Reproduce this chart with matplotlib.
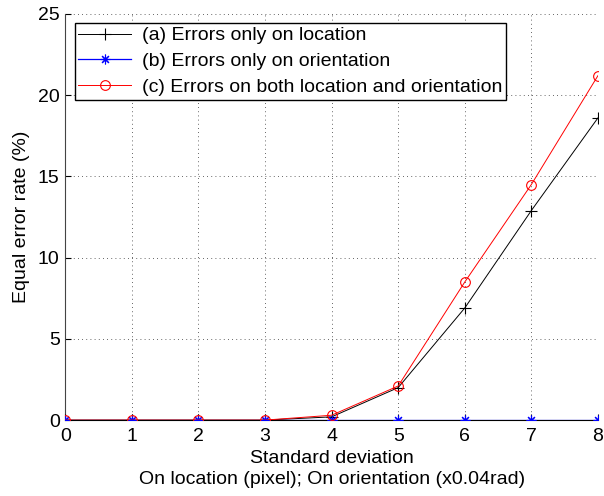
import matplotlib
matplotlib.use("Agg")
import matplotlib.pyplot as plt

plt.rcParams['font.family'] = ['Liberation Sans', 'DejaVu Sans']

# standard deviation levels
sigma = [0, 1, 2, 3, 4, 5, 6, 7, 8]

# equal error rate (%) for each noise case
eer_location = [0, 0, 0, 0, 0.2, 2.0, 6.9, 12.9, 18.6]
eer_orientation = [0, 0, 0, 0, 0, 0, 0, 0, 0]
eer_both = [0, 0, 0, 0, 0.3, 2.1, 8.5, 14.5, 21.2]

labels = ["(a) Errors only on location",
          "(b) Errors only on orientation",
          "(c) Errors on both location and orientation"]

fig = plt.figure(figsize=(6.04, 4.96), dpi=100)
ax = fig.add_axes([0.108, 0.153, 0.882, 0.819])

# matlab-style asterisk: + and x overlaid
asterisk = (8, 2, 0)

ax.plot(sigma, eer_location, color="black", marker="+", markersize=8,
        markeredgewidth=0.8, linewidth=0.7, label=labels[0], zorder=3)
ax.plot(sigma, eer_orientation, color="blue", marker=asterisk, markersize=7,
        markeredgewidth=0.8, linewidth=0.9, label=labels[1], zorder=3)
ax.plot(sigma, eer_both, color="red", marker="o", markersize=7,
        markerfacecolor="none", markeredgewidth=0.8, linewidth=0.7,
        label=labels[2], zorder=3)

ax.set_xlim(0, 8)
ax.set_ylim(0, 25)
ax.set_xticks(range(0, 9))
ax.set_yticks(range(0, 26, 5))
ax.tick_params(direction="in", labelsize=14, length=4)
ax.tick_params(axis="x", pad=6)
ax.tick_params(axis="y", pad=4)
ax.grid(True, linestyle=(0, (1, 4)), color="black", linewidth=0.6, alpha=0.8)

for side in ("top", "right"):
    ax.spines[side].set_visible(False)
ax.spines["left"].set_linewidth(0.8)
ax.spines["left"].set_color("#444444")
ax.spines["bottom"].set_linewidth(0.8)

ax.set_xlabel("Standard deviation\nOn location (pixel); On orientation (x0.04rad)",
              fontsize=14, labelpad=3, linespacing=1.3)
ax.set_ylabel("Equal error rate (%)", fontsize=14, labelpad=6)

leg = ax.legend(loc="upper left", bbox_to_anchor=(0.0175, 0.978), fontsize=14,
                fancybox=False, edgecolor="black", framealpha=1,
                handlelength=2.7, handletextpad=0.55, borderpad=0.2,
                labelspacing=0.42, borderaxespad=0)
leg.get_frame().set_linewidth(1.0)

fig.savefig("out.png", dpi=100)
